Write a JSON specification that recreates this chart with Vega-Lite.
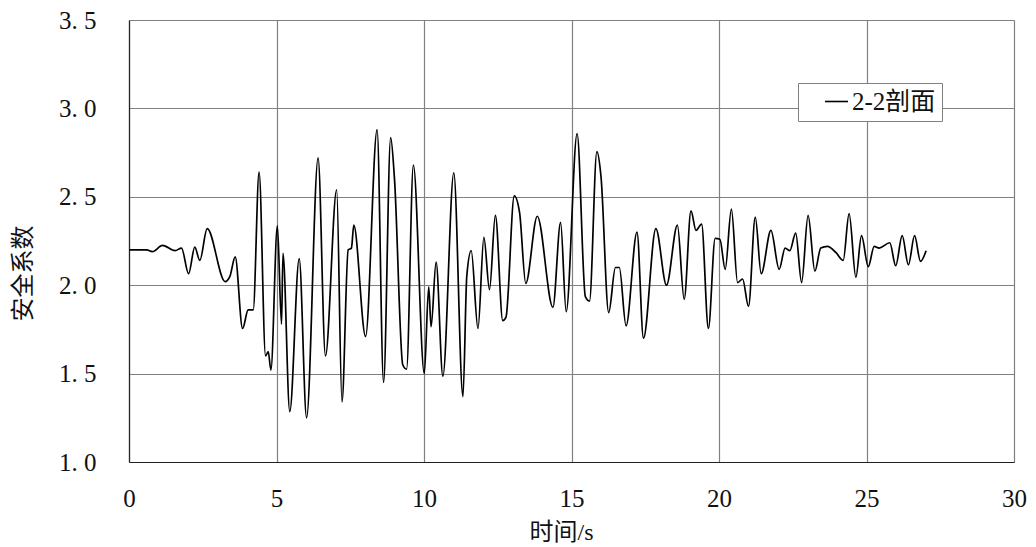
{
  "$schema": "https://vega.github.io/schema/vega-lite/v6.json",
  "width": 885,
  "height": 442,
  "autosize": {"type": "none"},
  "padding": {"left": 129, "top": 20, "right": 22, "bottom": 85},
  "background": "white",
  "config": {
    "view": {"stroke": null},
    "axis": {
      "gridColor": "#808080",
      "gridWidth": 1.2,
      "domainColor": "#222222",
      "domainWidth": 1.2,
      "ticks": false,
      "labelFlush": false,
      "labelFont": "Liberation Serif",
      "labelFontSize": 25,
      "labelColor": "#111111",
      "titleFont": "Liberation Serif, Noto Sans CJK SC",
      "titleFontWeight": "normal",
      "titleColor": "#111111"
    }
  },
  "data": {
    "values": [
      {"t": 0, "fs": 2.2, "series": "2-2剖面"},
      {"t": 0.6, "fs": 2.2, "series": "2-2剖面"},
      {"t": 0.79, "fs": 2.19, "series": "2-2剖面"},
      {"t": 1.14, "fs": 2.225, "series": "2-2剖面"},
      {"t": 1.56, "fs": 2.195, "series": "2-2剖面"},
      {"t": 1.78, "fs": 2.21, "series": "2-2剖面"},
      {"t": 2.02, "fs": 2.065, "series": "2-2剖面"},
      {"t": 2.23, "fs": 2.215, "series": "2-2剖面"},
      {"t": 2.4, "fs": 2.14, "series": "2-2剖面"},
      {"t": 2.65, "fs": 2.32, "series": "2-2剖面"},
      {"t": 3.26, "fs": 2.02, "series": "2-2剖面"},
      {"t": 3.42, "fs": 2.05, "series": "2-2剖面"},
      {"t": 3.6, "fs": 2.16, "series": "2-2剖面"},
      {"t": 3.85, "fs": 1.755, "series": "2-2剖面"},
      {"t": 4.04, "fs": 1.86, "series": "2-2剖面"},
      {"t": 4.21, "fs": 1.86, "series": "2-2剖面"},
      {"t": 4.41, "fs": 2.64, "series": "2-2剖面"},
      {"t": 4.63, "fs": 1.6, "series": "2-2剖面"},
      {"t": 4.72, "fs": 1.625, "series": "2-2剖面"},
      {"t": 4.81, "fs": 1.52, "series": "2-2剖面"},
      {"t": 5.03, "fs": 2.335, "series": "2-2剖面"},
      {"t": 5.17, "fs": 1.78, "series": "2-2剖面"},
      {"t": 5.22, "fs": 2.18, "series": "2-2剖面"},
      {"t": 5.45, "fs": 1.285, "series": "2-2剖面"},
      {"t": 5.77, "fs": 2.15, "series": "2-2剖面"},
      {"t": 6.02, "fs": 1.25, "series": "2-2剖面"},
      {"t": 6.41, "fs": 2.72, "series": "2-2剖面"},
      {"t": 6.66, "fs": 1.6, "series": "2-2剖面"},
      {"t": 7.04, "fs": 2.54, "series": "2-2剖面"},
      {"t": 7.22, "fs": 1.34, "series": "2-2剖面"},
      {"t": 7.43, "fs": 2.2, "series": "2-2剖面"},
      {"t": 7.54, "fs": 2.21, "series": "2-2剖面"},
      {"t": 7.62, "fs": 2.34, "series": "2-2剖面"},
      {"t": 8.02, "fs": 1.71, "series": "2-2剖面"},
      {"t": 8.41, "fs": 2.88, "series": "2-2剖面"},
      {"t": 8.63, "fs": 1.45, "series": "2-2剖面"},
      {"t": 8.87, "fs": 2.835, "series": "2-2剖面"},
      {"t": 9.0, "fs": 2.6, "series": "2-2剖面"},
      {"t": 9.28, "fs": 1.55, "series": "2-2剖面"},
      {"t": 9.41, "fs": 1.525, "series": "2-2剖面"},
      {"t": 9.64, "fs": 2.68, "series": "2-2剖面"},
      {"t": 10.01, "fs": 1.5, "series": "2-2剖面"},
      {"t": 10.16, "fs": 1.99, "series": "2-2剖面"},
      {"t": 10.24, "fs": 1.765, "series": "2-2剖面"},
      {"t": 10.41, "fs": 2.13, "series": "2-2剖面"},
      {"t": 10.64, "fs": 1.485, "series": "2-2剖面"},
      {"t": 11.01, "fs": 2.635, "series": "2-2剖面"},
      {"t": 11.32, "fs": 1.37, "series": "2-2剖面"},
      {"t": 11.45, "fs": 2.05, "series": "2-2剖面"},
      {"t": 11.6, "fs": 2.195, "series": "2-2剖面"},
      {"t": 11.83, "fs": 1.755, "series": "2-2剖面"},
      {"t": 12.03, "fs": 2.27, "series": "2-2剖面"},
      {"t": 12.22, "fs": 1.975, "series": "2-2剖面"},
      {"t": 12.42, "fs": 2.395, "series": "2-2剖面"},
      {"t": 12.67, "fs": 1.8, "series": "2-2剖面"},
      {"t": 12.78, "fs": 1.82, "series": "2-2剖面"},
      {"t": 13.06, "fs": 2.505, "series": "2-2剖面"},
      {"t": 13.24, "fs": 2.41, "series": "2-2剖面"},
      {"t": 13.45, "fs": 2.01, "series": "2-2剖面"},
      {"t": 13.84, "fs": 2.39, "series": "2-2剖面"},
      {"t": 14.37, "fs": 1.875, "series": "2-2剖面"},
      {"t": 14.63, "fs": 2.355, "series": "2-2剖面"},
      {"t": 14.82, "fs": 1.85, "series": "2-2剖面"},
      {"t": 15.19, "fs": 2.857, "series": "2-2剖面"},
      {"t": 15.47, "fs": 1.935, "series": "2-2剖面"},
      {"t": 15.61, "fs": 1.91, "series": "2-2剖面"},
      {"t": 15.86, "fs": 2.755, "series": "2-2剖面"},
      {"t": 16.0, "fs": 2.615, "series": "2-2剖面"},
      {"t": 16.26, "fs": 1.845, "series": "2-2剖面"},
      {"t": 16.49, "fs": 2.1, "series": "2-2剖面"},
      {"t": 16.62, "fs": 2.1, "series": "2-2剖面"},
      {"t": 16.85, "fs": 1.77, "series": "2-2剖面"},
      {"t": 17.22, "fs": 2.3, "series": "2-2剖面"},
      {"t": 17.44, "fs": 1.7, "series": "2-2剖面"},
      {"t": 17.86, "fs": 2.32, "series": "2-2剖面"},
      {"t": 18.22, "fs": 2.0, "series": "2-2剖面"},
      {"t": 18.59, "fs": 2.34, "series": "2-2剖面"},
      {"t": 18.82, "fs": 1.92, "series": "2-2剖面"},
      {"t": 19.05, "fs": 2.42, "series": "2-2剖面"},
      {"t": 19.22, "fs": 2.31, "series": "2-2剖面"},
      {"t": 19.41, "fs": 2.345, "series": "2-2剖面"},
      {"t": 19.64, "fs": 1.755, "series": "2-2剖面"},
      {"t": 19.87, "fs": 2.265, "series": "2-2剖面"},
      {"t": 20.03, "fs": 2.26, "series": "2-2剖面"},
      {"t": 20.21, "fs": 2.09, "series": "2-2剖面"},
      {"t": 20.42, "fs": 2.43, "series": "2-2剖面"},
      {"t": 20.63, "fs": 2.015, "series": "2-2剖面"},
      {"t": 20.8, "fs": 2.035, "series": "2-2剖面"},
      {"t": 21.0, "fs": 1.88, "series": "2-2剖面"},
      {"t": 21.23, "fs": 2.385, "series": "2-2剖面"},
      {"t": 21.43, "fs": 2.065, "series": "2-2剖面"},
      {"t": 21.76, "fs": 2.31, "series": "2-2剖面"},
      {"t": 22.04, "fs": 2.09, "series": "2-2剖面"},
      {"t": 22.24, "fs": 2.21, "series": "2-2剖面"},
      {"t": 22.4, "fs": 2.195, "series": "2-2剖面"},
      {"t": 22.6, "fs": 2.295, "series": "2-2剖面"},
      {"t": 22.8, "fs": 2.015, "series": "2-2剖面"},
      {"t": 23.02, "fs": 2.395, "series": "2-2剖面"},
      {"t": 23.25, "fs": 2.08, "series": "2-2剖面"},
      {"t": 23.45, "fs": 2.21, "series": "2-2剖面"},
      {"t": 23.68, "fs": 2.22, "series": "2-2剖面"},
      {"t": 23.96, "fs": 2.185, "series": "2-2剖面"},
      {"t": 24.21, "fs": 2.14, "series": "2-2剖面"},
      {"t": 24.41, "fs": 2.405, "series": "2-2剖面"},
      {"t": 24.64, "fs": 2.045, "series": "2-2剖面"},
      {"t": 24.83, "fs": 2.28, "series": "2-2剖面"},
      {"t": 25.06, "fs": 2.105, "series": "2-2剖面"},
      {"t": 25.26, "fs": 2.22, "series": "2-2剖面"},
      {"t": 25.43, "fs": 2.21, "series": "2-2剖面"},
      {"t": 25.79, "fs": 2.24, "series": "2-2剖面"},
      {"t": 25.99, "fs": 2.11, "series": "2-2剖面"},
      {"t": 26.21, "fs": 2.28, "series": "2-2剖面"},
      {"t": 26.42, "fs": 2.115, "series": "2-2剖面"},
      {"t": 26.63, "fs": 2.28, "series": "2-2剖面"},
      {"t": 26.83, "fs": 2.135, "series": "2-2剖面"},
      {"t": 27.02, "fs": 2.195, "series": "2-2剖面"}
    ]
  },
  "mark": {"type": "line", "interpolate": "monotone", "strokeWidth": 1.7},
  "encoding": {
    "x": {
      "field": "t",
      "type": "quantitative",
      "scale": {"domain": [0, 30], "nice": false, "zero": false},
      "axis": {
        "values": [0, 5, 10, 15, 20, 25, 30],
        "title": "时间/s",
        "titleFontSize": 24,
        "labelPadding": 24,
        "titleX": 432,
        "titleY": 70,
        "titleAlign": "center",
        "titleBaseline": "middle",
        "titleAnchor": null
      }
    },
    "y": {
      "field": "fs",
      "type": "quantitative",
      "scale": {"domain": [1, 3.5], "nice": false, "zero": false},
      "axis": {
        "values": [1, 1.5, 2, 2.5, 3, 3.5],
        "labelExpr": "replace(format(datum.value, '.1f'), '.', '. ')",
        "labelPadding": 33,
        "title": "安全系数",
        "titleFontSize": 24,
        "titleX": -106,
        "titleY": 253,
        "titleAngle": 270,
        "titleAlign": "center",
        "titleBaseline": "middle",
        "titleAnchor": null
      }
    },
    "color": {
      "field": "series",
      "type": "nominal",
      "scale": {"range": ["#000000"]},
      "legend": {
        "title": null,
        "orient": "none",
        "legendX": 669,
        "legendY": 63,
        "symbolType": "stroke",
        "symbolSize": 529,
        "symbolStrokeWidth": 1.6,
        "symbolOffset": 20,
        "labelOffset": 3,
        "labelFont": "Liberation Serif, Noto Sans CJK SC",
        "labelFontSize": 25,
        "labelColor": "#111111",
        "padding": 6,
        "strokeColor": "#808080",
        "fillColor": "white"
      }
    }
  }
}
